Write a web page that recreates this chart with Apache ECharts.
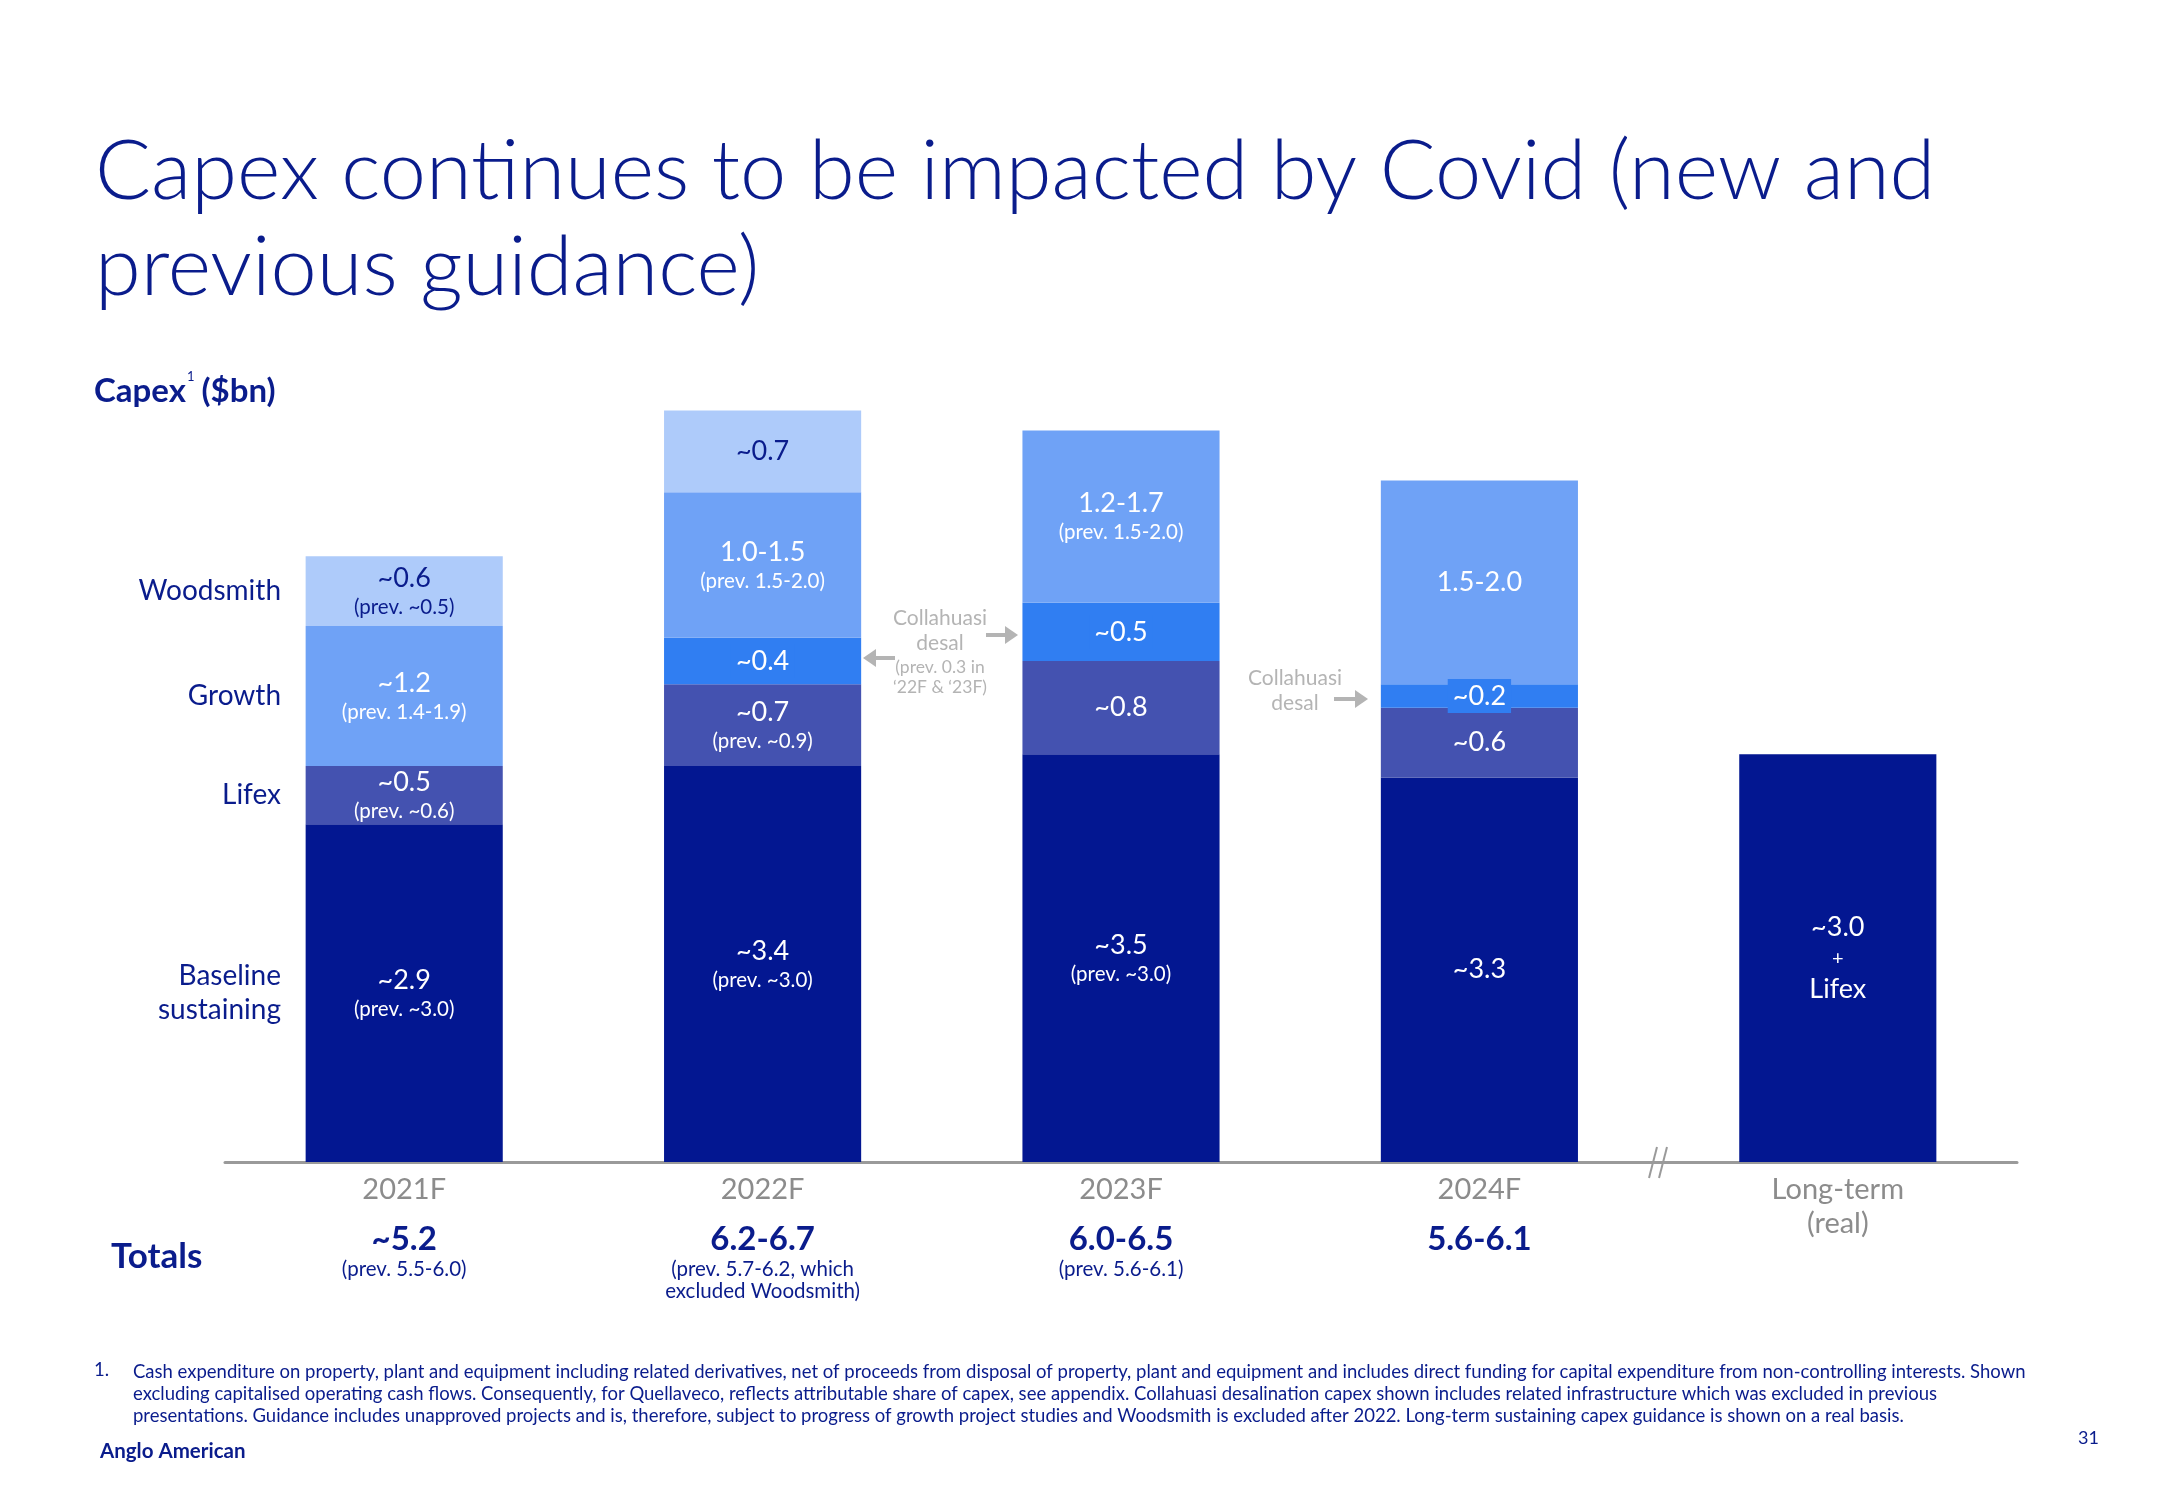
<!DOCTYPE html>
<html><head><meta charset="utf-8">
<script src="https://cdn.jsdelivr.net/npm/echarts@6/dist/echarts.min.js"></script>
<style>html,body{margin:0;padding:0;background:#fff}#c{width:2167px;height:1500px}</style>
</head><body><div id="c"></div>
<script>
// ---- data ----
const categories = ['2021F', '2022F', '2023F', '2024F', 'Long-term\n(real)'];
const baseline = [2.9, 3.4, 3.5, 3.3, 3.5];
const lifex = [0.5, 0.7, 0.8, 0.6, null];
const desal = [null, 0.4, 0.5, 0.2, null];
const growth = [1.2, 1.25, 1.48, 1.75, null];
const woodsmith = [0.6, 0.7, null, null, null];

const baselineLabel = ['~2.9', '~3.4', '~3.5', '~3.3', '~3.0'];
const baselinePrev = ['(prev. ~3.0)', '(prev. ~3.0)', '(prev. ~3.0)', '', ''];
const longTermExtra = ['+', 'Lifex'];
const lifexLabel = ['~0.5', '~0.7', '~0.8', '~0.6', ''];
const lifexPrev = ['(prev. ~0.6)', '(prev. ~0.9)', '', '', ''];
const desalLabel = ['', '~0.4', '~0.5', '~0.2', ''];
const growthLabel = ['~1.2', '1.0-1.5', '1.2-1.7', '1.5-2.0', ''];
const growthPrev = ['(prev. 1.4-1.9)', '(prev. 1.5-2.0)', '(prev. 1.5-2.0)', '', ''];
const woodsmithLabel = ['~0.6', '~0.7', '', '', ''];
const woodsmithPrev = ['(prev. ~0.5)', '', '', '', ''];

const totals = ['~5.2', '6.2-6.7', '6.0-6.5', '5.6-6.1', ''];
const totalsPrev = [['(prev. 5.5-6.0)'], ['(prev. 5.7-6.2, which', 'excluded Woodsmith)'], ['(prev. 5.6-6.1)'], [], []];

const rowLabels = ['Woodsmith', 'Growth', 'Lifex', 'Baseline\nsustaining'];

const footnoteLines = [
  'Cash expenditure on property, plant and equipment including related derivatives, net of proceeds from disposal of property, plant and equipment and includes direct funding for capital expenditure from non-controlling interests. Shown',
  'excluding capitalised operating cash flows. Consequently, for Quellaveco, reflects attributable share of capex, see appendix. Collahuasi desalination capex shown includes related infrastructure which was excluded in previous',
  'presentations. Guidance includes unapproved projects and is, therefore, subject to progress of growth project studies and Woodsmith is excluded after 2022. Long-term sustaining capex guidance is shown on a real basis.'
];

// ---- styles ----
const FONT = 'Lato';
const NAVY = '#0a1c8c';
const C_BASE = '#031791', C_LIFEX = '#4452b0', C_DESAL = '#307ef2', C_GROWTH = '#6fa2f6', C_WOOD = '#aecbfa';
const GRAY = '#8c8c8c', ANN = '#b4b4b4';

function rich(color) {
  return {
    a: { fontFamily: FONT, fontSize: 27, color: color, lineHeight: 32 },
    p: { fontFamily: FONT, fontSize: 20.5, color: color, lineHeight: 26 },
    s: { fontFamily: FONT, fontSize: 20, color: color, lineHeight: 30 }
  };
}
function fmt(mainArr, prevArr) {
  return function (p) {
    const i = p.dataIndex;
    let s = '{a|' + mainArr[i] + '}';
    if (prevArr && prevArr[i]) s += '\n{p|' + prevArr[i] + '}';
    return s;
  };
}

const chart = echarts.init(document.getElementById('c'), null, { renderer: 'canvas' });

const option = {
  animation: false,
  backgroundColor: '#ffffff',
  title: {
    text: 'Capex continues to be impacted by Covid (new and\nprevious guidance)',
    left: 90, top: 119,
    textStyle: { fontFamily: FONT, fontWeight: 300, fontSize: 83, lineHeight: 96, color: NAVY }
  },
  grid: { left: 225, right: 150, top: 230, bottom: 338, containLabel: false },
  xAxis: [{
    type: 'category', data: categories, position: 'bottom',
    axisLine: { lineStyle: { color: '#9a9a9a', width: 3 } },
    axisTick: { show: false },
    axisLabel: { margin: 11, fontFamily: FONT, fontSize: 29, lineHeight: 34, color: GRAY, verticalAlign: 'top' }
  }, {
    type: 'category', data: categories, position: 'bottom', offset: 58,
    axisLine: { show: false }, axisTick: { show: false },
    axisLabel: {
      margin: 0, verticalAlign: 'top',
      formatter: function (v, i) {
        if (!totals[i]) return '';
        let s = '{t|' + totals[i] + '}';
        totalsPrev[i].forEach(l => { s += '\n{p|' + l + '}'; });
        return s;
      },
      rich: {
        t: { fontFamily: FONT, fontSize: 33, fontWeight: 'bold', color: NAVY, lineHeight: 38 },
        p: { fontFamily: FONT, fontSize: 20.5, color: NAVY, lineHeight: 22 }
      }
    }
  }],
  yAxis: { type: 'value', min: 0, max: 8, show: false, splitLine: { show: false } },
  series: [
    {
      name: 'Baseline sustaining', type: 'bar', stack: 'capex', barWidth: '55%', data: baseline,
      itemStyle: { color: C_BASE },
      label: {
        show: true, position: 'inside', rich: rich('#ffffff'),
        formatter: function (p) {
          const i = p.dataIndex;
          if (i === 4) return '{a|' + baselineLabel[i] + '}\n{s|' + longTermExtra[0] + '}\n{a|' + longTermExtra[1] + '}';
          return fmt(baselineLabel, baselinePrev)(p);
        }
      }
    },
    {
      name: 'Lifex', type: 'bar', stack: 'capex', data: lifex,
      itemStyle: { color: C_LIFEX },
      label: { show: true, position: 'inside', rich: rich('#ffffff'), formatter: fmt(lifexLabel, lifexPrev) }
    },
    {
      name: 'Collahuasi desal', type: 'bar', stack: 'capex', data: desal,
      itemStyle: { color: C_DESAL },
      label: { show: true, position: 'inside', rich: rich('#ffffff'), formatter: fmt(desalLabel, null),
        backgroundColor: C_DESAL, padding: [1, 5, 1, 5] }
    },
    {
      name: 'Growth', type: 'bar', stack: 'capex', data: growth,
      itemStyle: { color: C_GROWTH },
      label: { show: true, position: 'inside', rich: rich('#ffffff'), formatter: fmt(growthLabel, growthPrev) }
    },
    {
      name: 'Woodsmith', type: 'bar', stack: 'capex', data: woodsmith,
      itemStyle: { color: C_WOOD },
      label: { show: true, position: 'inside', rich: rich(NAVY), formatter: fmt(woodsmithLabel, woodsmithPrev) }
    }
  ],
  graphic: []
};

const g = option.graphic;
// Subtitle
g.push({ type: 'text', left: 94, top: 370, style: {
  text: '{b|Capex}{s|1}{b|($bn)}',
  rich: {
    b: { fontFamily: FONT, fontSize: 33, fontWeight: 'bold', fill: NAVY, lineHeight: 38, verticalAlign: 'bottom' },
    s: { fontFamily: FONT, fontSize: 13, fill: NAVY, lineHeight: 38, verticalAlign: 'top', padding: [0, 7, 16, 1] }
  } } });
// Row labels
const rowY = [591, 696, 795, 993];
rowLabels.forEach((t, i) => {
  g.push({ type: 'text', x: 281, y: rowY[i], style: { text: t, fontFamily: FONT, fontSize: 28, lineHeight: 34,
    fill: NAVY, align: 'right', verticalAlign: 'middle' } });
});
// Totals
g.push({ type: 'text', x: 111, y: 1257, style: { text: 'Totals', fontFamily: FONT, fontSize: 35, fontWeight: 'bold',
  fill: NAVY, align: 'left', verticalAlign: 'middle' } });
// Collahuasi annotations
g.push({ type: 'text', x: 940, y: 656, style: { text: 'Collahuasi\ndesal', fontFamily: FONT, fontSize: 21, lineHeight: 25,
  fill: ANN, align: 'center', verticalAlign: 'bottom' } });
g.push({ type: 'text', x: 940, y: 657, style: { text: '(prev. 0.3 in\n\u201822F & \u201823F)', fontFamily: FONT, fontSize: 17.5, lineHeight: 20,
  fill: ANN, align: 'center', verticalAlign: 'top' } });
g.push({ type: 'text', x: 1295, y: 691, style: { text: 'Collahuasi\ndesal', fontFamily: FONT, fontSize: 21, lineHeight: 25,
  fill: ANN, align: 'center', verticalAlign: 'middle' } });
function arrow(x1, x2, y) {
  const dir = x2 > x1 ? 1 : -1;
  const head = 13;
  g.push({ type: 'line', shape: { x1: x1, y1: y, x2: x2 - dir * head, y2: y }, style: { stroke: ANN, lineWidth: 4 } });
  g.push({ type: 'polygon', shape: { points: [[x2, y], [x2 - dir * head, y - 9], [x2 - dir * head, y + 9]] }, style: { fill: ANN } });
}
arrow(986, 1018, 635);
arrow(895, 863, 658);
arrow(1334, 1368, 699);
// axis break mark
g.push({ type: 'line', shape: { x1: 1649, y1: 1178, x2: 1657, y2: 1147 }, style: { stroke: '#9a9a9a', lineWidth: 2 } });
g.push({ type: 'line', shape: { x1: 1659, y1: 1178, x2: 1667, y2: 1147 }, style: { stroke: '#9a9a9a', lineWidth: 2 } });
// Footnote
g.push({ type: 'text', left: 94, top: 1361, style: { text: '1.', fontFamily: FONT, fontSize: 18.5, fill: NAVY } });
g.push({ type: 'text', left: 133, top: 1361, style: { text: footnoteLines.join('\n'), fontFamily: FONT, fontSize: 18.5, lineHeight: 22, fill: NAVY } });
g.push({ type: 'text', left: 100, top: 1441, style: { text: 'Anglo American', fontFamily: FONT, fontSize: 20.5, fontWeight: 'bold', fill: NAVY } });
g.push({ type: 'text', left: 2078, top: 1429, style: { text: '31', fontFamily: FONT, fontSize: 18, fill: NAVY } });

chart.setOption(option);
</script>
</body></html>
